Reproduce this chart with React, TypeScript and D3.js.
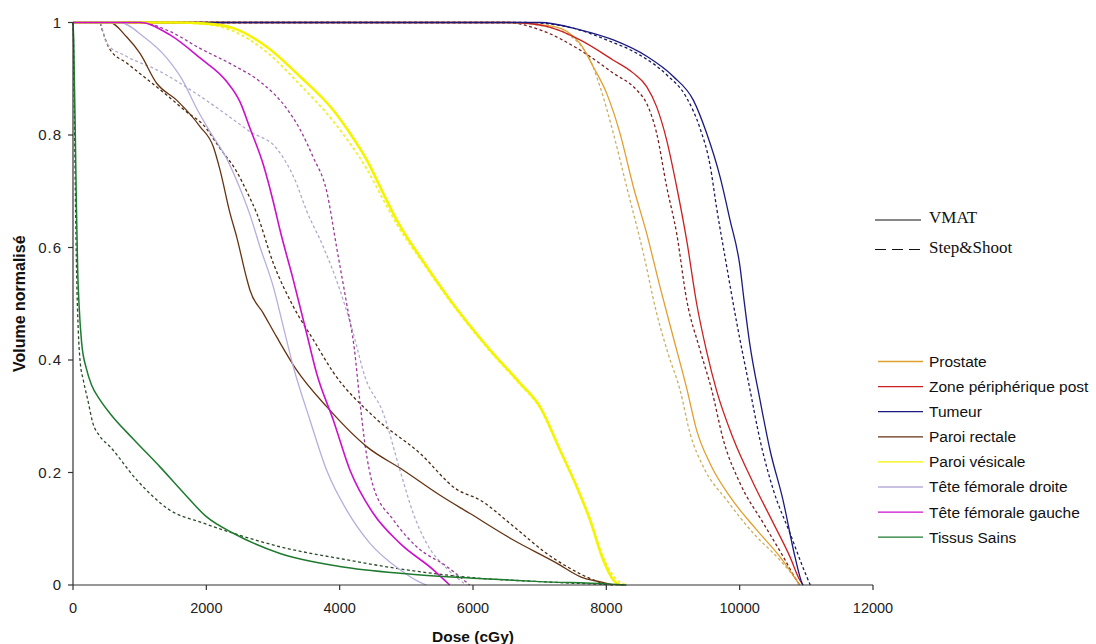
import React from "react";
import * as d3 from "d3";

type Pt = [number, number];

const xTicks = [0, 2000, 4000, 6000, 8000, 10000, 12000];
const yTicks = [0, 0.2, 0.4, 0.6, 0.8, 1];
const organNames = [
  "Prostate",
  "Zone périphérique post",
  "Tumeur",
  "Paroi rectale",
  "Paroi vésicale",
  "Tête fémorale droite",
  "Tête fémorale gauche",
  "Tissus Sains",
];
const techniqueNames = ["VMAT", "Step&Shoot"];

// VMAT (solid) curves: [dose cGy, normalised volume]
const prostateVMAT: Pt[] = [[0,1],[6500,1],[7205,0.993],[7605,0.963],[7805,0.921],[8005,0.874],[8205,0.803],[8405,0.708],[8605,0.625],[8805,0.53],[9005,0.44],[9205,0.35],[9355,0.275],[9555,0.216],[9855,0.157],[10255,0.098],[10605,0.05],[10855,0.008],[10900,0]];
const zoneVMAT: Pt[] = [[0,1],[6600,1],[7105,0.993],[7605,0.969],[8105,0.933],[8405,0.91],[8605,0.886],[8755,0.85],[8905,0.791],[9055,0.708],[9205,0.613],[9355,0.5],[9505,0.415],[9655,0.345],[9905,0.26],[10205,0.181],[10505,0.11],[10755,0.05],[10905,0.008],[10950,0]];
const tumeurVMAT: Pt[] = [[0,1],[7005,1],[7605,0.987],[8105,0.969],[8605,0.94],[9005,0.904],[9305,0.862],[9505,0.803],[9705,0.726],[9855,0.649],[10005,0.566],[10065,0.507],[10150,0.43],[10305,0.329],[10455,0.24],[10650,0.151],[10830,0.05],[10930,0.005],[10950,0]];
const rectaleVMAT: Pt[] = [[0,1],[555,1],[800,0.975],[1005,0.945],[1255,0.892],[1555,0.862],[1905,0.815],[2105,0.779],[2205,0.738],[2355,0.661],[2455,0.619],[2605,0.545],[2655,0.524],[2855,0.483],[3055,0.441],[3355,0.382],[3805,0.317],[4405,0.246],[4955,0.204],[5500,0.16],[5955,0.127],[6605,0.08],[7255,0.039],[7605,0.015],[8005,0.003],[8100,0]];
const vesicaleVMAT: Pt[] = [[0,1],[1500,1],[2000,0.998],[2405,0.99],[2905,0.957],[3405,0.904],[3905,0.844],[4155,0.803],[4405,0.756],[4655,0.696],[4855,0.649],[5255,0.575],[5655,0.507],[6255,0.418],[6705,0.359],[7005,0.317],[7305,0.24],[7555,0.175],[7755,0.116],[7955,0.044],[8105,0.009],[8200,0]];
const femDroiteVMAT: Pt[] = [[0,1],[705,1],[1055,0.975],[1405,0.937],[1655,0.895],[1855,0.847],[2055,0.806],[2305,0.758],[2505,0.705],[2655,0.658],[2805,0.601],[3005,0.53],[3155,0.459],[3305,0.388],[3555,0.293],[3805,0.204],[4105,0.133],[4455,0.074],[4905,0.027],[5200,0.005],[5300,0]];
const femGaucheVMAT: Pt[] = [[0,1],[1005,1],[1455,0.978],[1905,0.937],[2305,0.895],[2505,0.859],[2655,0.812],[2855,0.747],[3005,0.681],[3105,0.631],[3305,0.542],[3505,0.447],[3655,0.376],[3905,0.293],[4155,0.204],[4505,0.127],[4905,0.074],[5405,0.027],[5650,0]];
const tissusVMAT: Pt[] = [[0,1],[10,0.97],[20,0.9],[35,0.8],[50,0.68],[70,0.56],[90,0.5],[130,0.43],[200,0.385],[280,0.355],[400,0.33],[555,0.305],[900,0.26],[1305,0.21],[1650,0.165],[2005,0.121],[2405,0.092],[3105,0.056],[4000,0.033],[5000,0.02],[6000,0.012],[7000,0.006],[8000,0.002],[8300,0]];

// Step&Shoot (dashed) curves
const prostateSS: Pt[] = [[0,1],[6500,1],[7200,0.99],[7705,0.945],[7905,0.886],[8105,0.803],[8305,0.708],[8555,0.59],[8755,0.483],[8930,0.41],[9105,0.347],[9255,0.27],[9455,0.21],[9805,0.151],[10205,0.092],[10605,0.044],[10855,0.008],[10900,0]];
const zoneSS: Pt[] = [[0,1],[6500,1],[7005,0.987],[7605,0.951],[8105,0.91],[8455,0.88],[8605,0.856],[8755,0.803],[8905,0.708],[9055,0.625],[9205,0.507],[9400,0.42],[9580,0.347],[9755,0.258],[10005,0.181],[10355,0.11],[10655,0.05],[10855,0.008],[10900,0]];
const tumeurSS: Pt[] = [[0,1],[6800,1],[7500,0.99],[8005,0.969],[8505,0.942],[8905,0.907],[9205,0.866],[9405,0.812],[9555,0.747],[9655,0.67],[9800,0.57],[9950,0.47],[10155,0.347],[10305,0.258],[10505,0.169],[10755,0.092],[11005,0.015],[11060,0]];
const rectaleSS: Pt[] = [[0,1],[405,1],[430,0.99],[555,0.952],[805,0.928],[1155,0.895],[1405,0.871],[1705,0.841],[1955,0.818],[2205,0.776],[2455,0.735],[2605,0.7],[2755,0.661],[3005,0.572],[3305,0.495],[3605,0.436],[3905,0.378],[4505,0.3],[5205,0.234],[5755,0.17],[6105,0.151],[6600,0.105],[7105,0.056],[7605,0.02],[8000,0]];
const vesicaleSS: Pt[] = [[0,1],[1500,1],[2000,0.997],[2400,0.985],[2900,0.948],[3400,0.89],[3900,0.825],[4155,0.785],[4405,0.74],[4655,0.685],[4855,0.642],[5255,0.572],[5655,0.505],[6255,0.416],[6705,0.357],[7005,0.315],[7305,0.24],[7555,0.175],[7755,0.116],[7955,0.048],[8150,0.01],[8300,0]];
const femDroiteSS: Pt[] = [[0,1],[400,1],[505,0.963],[800,0.94],[1305,0.913],[1805,0.877],[2305,0.836],[2655,0.806],[3055,0.776],[3330,0.72],[3505,0.665],[3755,0.601],[4005,0.524],[4205,0.447],[4380,0.37],[4655,0.305],[4905,0.204],[5105,0.127],[5305,0.074],[5600,0.03],[5900,0]];
const femGaucheSS: Pt[] = [[0,1],[1005,1],[1455,0.984],[1905,0.954],[2405,0.924],[2805,0.895],[3205,0.847],[3405,0.81],[3605,0.76],[3805,0.7],[3955,0.6],[4105,0.5],[4220,0.42],[4300,0.33],[4380,0.25],[4505,0.175],[4805,0.116],[5155,0.068],[5605,0.033],[5950,0]];
const tissusSS: Pt[] = [[0,1],[10,0.95],[20,0.85],[35,0.7],[55,0.55],[80,0.45],[105,0.4],[155,0.364],[220,0.33],[300,0.287],[400,0.265],[555,0.246],[955,0.187],[1455,0.133],[1955,0.11],[2405,0.092],[3105,0.068],[4000,0.047],[5000,0.027],[6000,0.013],[7000,0.006],[8000,0.001],[8300,0]];

const vmatSeries = [prostateVMAT, zoneVMAT, tumeurVMAT, rectaleVMAT, vesicaleVMAT, femDroiteVMAT, femGaucheVMAT, tissusVMAT];
const ssSeries = [prostateSS, zoneSS, tumeurSS, rectaleSS, vesicaleSS, femDroiteSS, femGaucheSS, tissusSS];

// styles
const solidColors = ["#E0A030", "#CC2020", "#1A1A80", "#663311", "#F4F400", "#B8AEDC", "#CC10CC", "#1E7A2E"];
const dashColors = ["#C8B060", "#7A2020", "#1A1A60", "#4A2A10", "#F0F040", "#B0AACC", "#9A3A9A", "#2A4A2A"];
const solidWidths = [1.3, 1.3, 1.3, 1.3, 2.6, 1.3, 1.6, 1.5];

const W = 1096;
const H = 644;
const margin = { left: 73, right: 223, top: 22.5, bottom: 59 };

export default function App() {
  const x = d3.scaleLinear().domain([0, 12000]).range([margin.left, W - margin.right]);
  const y = d3.scaleLinear().domain([0, 1]).range([H - margin.bottom, margin.top]);
  const line = d3
    .line<Pt>()
    .x((d) => x(d[0]))
    .y((d) => y(d[1]))
    .curve(d3.curveMonotoneX);

  const axisColor = "#333";
  const sans = "'Liberation Sans', Arial, sans-serif";
  const serif = "'Liberation Serif', 'Times New Roman', serif";

  const legendX0 = 878;
  const legendX1 = 923;
  const legendY0 = 361.5;
  const legendStep = 25.1;

  return (
    <svg width={W} height={H} style={{ position: "absolute", left: 0, top: 0, background: "#fff" }}>
      <rect x={0} y={0} width={W} height={H} fill="#fff" />
      {/* dashed (Step&Shoot) */}
      {ssSeries.map((s, i) => (
        <path key={"ss" + i} d={line(s) || ""} fill="none" stroke={dashColors[i]} strokeWidth={i === 4 ? 2 : 1.3} strokeDasharray="3,2.5" />
      ))}
      {/* solid (VMAT) */}
      {vmatSeries.map((s, i) => (
        <path key={"v" + i} d={line(s) || ""} fill="none" stroke={solidColors[i]} strokeWidth={solidWidths[i]} />
      ))}

      {/* axes */}
      <line x1={x(0)} x2={x(0)} y1={y(1)} y2={y(0)} stroke={axisColor} strokeWidth={1.2} />
      <line x1={x(0)} x2={x(12000)} y1={y(0)} y2={y(0)} stroke={axisColor} strokeWidth={1.2} />
      {yTicks.map((t) => (
        <g key={"yt" + t}>
          <line x1={x(0) - 5} x2={x(0)} y1={y(t)} y2={y(t)} stroke={axisColor} strokeWidth={1.2} />
          <text x={x(0) - 11} y={y(t)} dy="0.36em" textAnchor="end" fontFamily={sans} fontSize={15} fill="#222" letterSpacing={1}>
            {String(t)}
          </text>
        </g>
      ))}
      {xTicks.map((t) => (
        <g key={"xt" + t}>
          <line x1={x(t)} x2={x(t)} y1={y(0)} y2={y(0) + 5} stroke={axisColor} strokeWidth={1.2} />
          <text x={x(t)} y={y(0) + 28} textAnchor="middle" fontFamily={sans} fontSize={14.5} fill="#222">
            {String(t)}
          </text>
        </g>
      ))}
      <text x={x(6000)} y={642} textAnchor="middle" fontFamily={sans} fontSize={15.5} fontWeight="bold" fill="#111">
        Dose (cGy)
      </text>
      <text transform={`translate(25, ${y(0.5)}) rotate(-90)`} textAnchor="middle" fontFamily={sans} fontSize={16} fontWeight="bold" fill="#111">
        Volume normalisé
      </text>

      {/* technique legend */}
      <line x1={875} x2={921} y1={220} y2={220} stroke="#111" strokeWidth={1.2} />
      <text x={929} y={223} fontFamily={serif} fontSize={17} fill="#111">
        {techniqueNames[0]}
      </text>
      <line x1={875} x2={922} y1={249.5} y2={249.5} stroke="#111" strokeWidth={1.2} strokeDasharray="11,6" />
      <text x={929} y={253} fontFamily={serif} fontSize={17} fill="#111">
        {techniqueNames[1]}
      </text>

      {/* organ legend */}
      {organNames.map((n, i) => (
        <g key={"lg" + i}>
          <line x1={legendX0} x2={legendX1} y1={legendY0 + i * legendStep} y2={legendY0 + i * legendStep} stroke={solidColors[i]} strokeWidth={1.3} />
          <text x={legendX1 + 6} y={legendY0 + i * legendStep} dy="0.35em" fontFamily={sans} fontSize={15.5} fill="#111">
            {n}
          </text>
        </g>
      ))}
    </svg>
  );
}
